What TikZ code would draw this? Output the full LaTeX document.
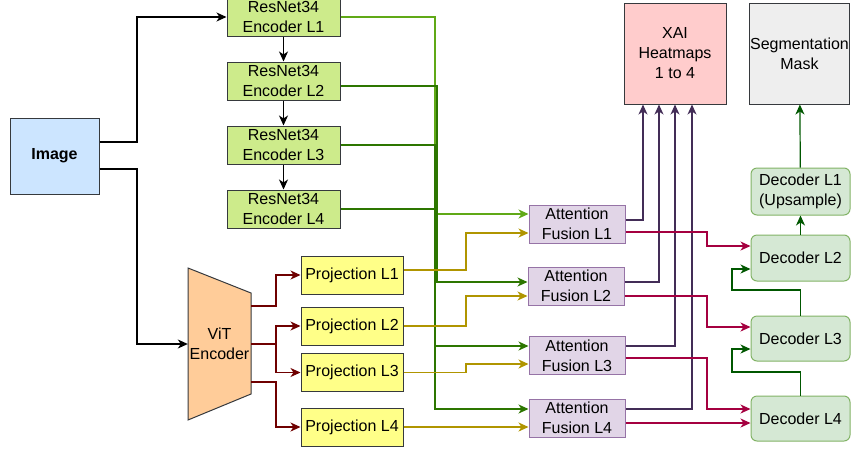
\documentclass[tikz,border=0pt]{standalone}
\usepackage{fontspec}
\setmainfont{Liberation Sans}
\usetikzlibrary{arrows.meta,positioning}
\definecolor{Edge}{HTML}{36393D}
\definecolor{Sky}{HTML}{CCE5FF}
\definecolor{Lime}{HTML}{CDEB8B}
\definecolor{Lemon}{HTML}{FFFF88}
\definecolor{Peach}{HTML}{FFCC99}
\definecolor{Lavender}{HTML}{E1D5E7}
\definecolor{Lilac}{HTML}{9673A6}
\definecolor{Rose}{HTML}{FFCCCC}
\definecolor{Ash}{HTML}{EEEEEE}
\definecolor{Mint}{HTML}{D5E8D4}
\definecolor{Sage}{HTML}{82B366}
\definecolor{Leaf}{HTML}{60A917}
\definecolor{Forest}{HTML}{2D7600}
\definecolor{Pine}{HTML}{005700}
\definecolor{Ochre}{HTML}{B09500}
\definecolor{Maroon}{HTML}{6F0000}
\definecolor{Crimson}{HTML}{A50040}
\definecolor{Plum}{HTML}{432D57}

\begin{document}
\begin{tikzpicture}[x=1pt,y=-1pt,node distance=25pt,
 box/.style={draw=Edge,line width=1pt,align=center,inner sep=0pt,
   minimum width=113pt,minimum height=38pt,font=\fontsize{16}{20}\selectfont},
 enc/.style={box,fill=Lime},
 proj/.style={box,fill=Lemon,minimum width=102pt},
 fuse/.style={box,draw=Lilac,fill=Lavender,minimum width=96pt},
 dec/.style={box,draw=Sage,fill=Mint,rounded corners=6pt,minimum width=99pt,minimum height=46pt},
 arrow/.style={-{Stealth[length=10pt,width=9pt,inset=3pt]},line width=1.2pt}]
\useasboundingbox (0,0) rectangle (851,448);
\node[box,fill=Sky,minimum width=89pt,minimum height=76pt,font=\fontsize{16}{20}\selectfont\bfseries] (img) at (54.5,156) {Image};
\node[enc] (enc1) at (283.5,17) {ResNet34\\Encoder L1};
\node[enc,below=of enc1] (enc2) {ResNet34\\Encoder L2};
\node[enc,below=of enc2] (enc3) {ResNet34\\Encoder L3};
\node[enc,below=of enc3] (enc4) {ResNet34\\Encoder L4};
\draw[draw=Edge,line width=1pt,fill=Peach] (188,268) -- (251,293) -- (251,394) -- (188,420) -- cycle;
\node[inner sep=0pt,minimum width=63pt,minimum height=152pt,align=center,font=\fontsize{16}{20}\selectfont] (vit) at (219.5,344) {ViT\\Encoder};
\node[proj] (proj1) at (352,275) {Projection L1};
\node[proj] (proj2) at (352,326) {Projection L2};
\node[proj] (proj3) at (352,372.5) {Projection L3};
\node[proj] (proj4) at (352,427) {Projection L4};
\node[fuse] (af1) at (577,224) {Attention\\Fusion L1};
\node[fuse] (af2) at (576,286) {Attention\\Fusion L2};
\node[fuse] (af3) at (577,355.5) {Attention\\Fusion L3};
\node[fuse] (af4) at (577,418) {Attention\\Fusion L4};
\node[box,fill=Rose,minimum width=102pt,minimum height=101pt] (xai) at (675,53.5) {XAI\\Heatmaps\\1 to 4};
\node[box,fill=Ash,minimum width=100pt,minimum height=101pt] (seg) at (799.5,53.5) {Segmentation\\Mask};
\node[dec,minimum height=47pt] (dec1) at (800.5,191.5) {Decoder L1\\(Upsample)};
\node[dec] (dec2) at (800.5,258) {Decoder L2};
\node[dec,minimum height=45pt] (dec3) at (800.5,338.5) {Decoder L3};
\node[dec,minimum height=45pt] (dec4) at (800.5,418.5) {Decoder L4};
\coordinate (bus) at (435,0);
\draw[arrow] ([yshift=14pt]img.east) -- (137,142) |- (enc1);
\draw[arrow] ([yshift=-13pt]img.east) -- (137,169) |- (vit);
\draw[arrow] (enc1)--(enc2);\draw[arrow] (enc2)--(enc3);\draw[arrow] (enc3)--(enc4);
\draw[arrow,Leaf] (enc1.east) -- (enc1.east -| bus) |- ([yshift=10pt]af1.west);
\draw[arrow,Forest] ([yshift=-5pt]enc2.east) -- ([xshift=2pt,yshift=-5pt]enc2.east -| bus) |- ([yshift=4pt]af2.west);
\draw[arrow,Forest] (enc3.east) -- (enc3.east -| bus) |- ([yshift=9.5pt]af3.west);
\draw[arrow,Forest] (enc4.east) -- (enc4.east -| bus) |- ([yshift=9pt]af4.west);
\draw[arrow,Maroon] ([yshift=38pt]vit.east) -- (276,306) |- (proj1);
\draw[arrow,Maroon] (vit.east) -- (276,344) |- (proj2);
\draw[arrow,Maroon] (vit.east) -- (276,344) |- (proj3);
\draw[arrow,Maroon] ([yshift=-38pt]vit.east) -- (276,382) |- (proj4);
\draw[arrow,Ochre] ([yshift=5pt]proj1.east) -- (466,270) |- ([yshift=-9pt]af1.west);
\draw[arrow,Ochre] (proj2.east) -- (466,326) |- ([yshift=-10pt]af2.west);
\draw[arrow,Ochre] (proj3.east) -- (466,372.5) |- ([yshift=-8.5pt]af3.west);
\draw[arrow,Ochre] (proj4.east) -- (af4.west |- proj4.east);
\draw[arrow,Plum] ([yshift=4pt]af1.east) -| ([xshift=-32pt]xai.south);
\draw[arrow,Plum] ([yshift=4pt]af2.east) -| ([xshift=-16pt]xai.south);
\draw[arrow,Plum] ([yshift=9.5pt]af3.east) -| (xai.south);
\draw[arrow,Plum] ([yshift=9pt]af4.east) -| ([xshift=17pt]xai.south);
\draw[arrow,Crimson] ([yshift=-8pt]af1.east) -- (707,232) |- ([yshift=12pt]dec2.west);
\draw[arrow,Crimson] ([yshift=-10pt]af2.east) -- (707,296) |- ([yshift=11.5pt]dec3.west);
\draw[arrow,Crimson] ([yshift=-2.5pt]af3.east) -- (707,358) |- ([yshift=9.5pt]dec4.west);
\draw[arrow,Crimson] ([yshift=-5pt]af4.east) -- ([yshift=-4.5pt]dec4.west);
\draw[arrow,Pine] (dec1)--(seg);\draw[arrow,Pine] (dec2)--(dec1);
\draw[arrow,Pine] (dec3.north) |- (732,290) |- ([yshift=-11pt]dec2.west);
\draw[arrow,Pine] (dec4.north) |- (732,372) |- ([yshift=-10.5pt]dec3.west);
\end{tikzpicture}
\end{document}
